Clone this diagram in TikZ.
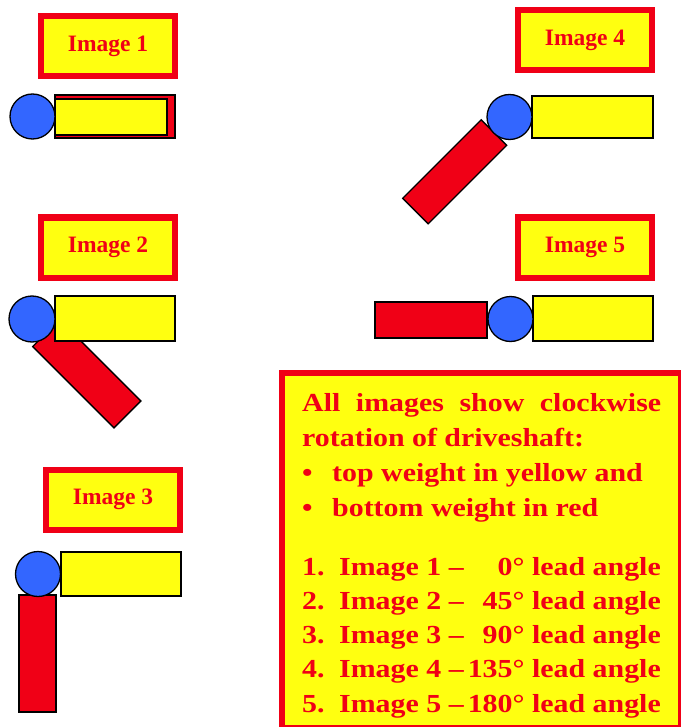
\documentclass[tikz,border=0pt]{standalone}
\usepackage{fontspec}
\setmainfont{Liberation Serif}
\newfontfamily\boxfont{Liberation Serif}[FakeStretch=1.15]
\definecolor{myred}{RGB}{240,0,22}
\definecolor{myyellow}{RGB}{255,255,16}
\definecolor{myblue}{RGB}{51,102,255}
\tikzset{
  labelbox/.style={draw=myred, fill=myyellow, line width=6pt, minimum width=134pt, minimum height=60pt, inner sep=0pt,
    text=myred, font=\fontsize{23.5}{26}\selectfont\bfseries},
  legendbox/.style={draw=myred, fill=myyellow, line width=6pt, inner sep=0pt},
  redrod/.style={draw=black, fill=myred, line width=1.3pt},
  yellowrod/.style={draw=black, fill=myyellow, line width=1.3pt},
  hub/.style={draw=black, fill=myblue, line width=1.3pt},
  txt/.style={inner sep=0pt, text=myred, font=\boxfont\fontsize{26}{30}\selectfont\bfseries},
}
\begin{document}
\begin{tikzpicture}[x=1pt,y=-1pt]
\useasboundingbox (0,0) rectangle (680,727);

% labels
\node[labelbox] (lab1) at (108,46) {Image 1};
\node[labelbox] (lab2) at (108,247.5) {Image 2};
\node[labelbox] (lab3) at (113,499.5) {Image 3};
\node[labelbox] (lab4) at (585,40.5) {Image 4};
\node[labelbox] (lab5) at (585,247.5) {Image 5};

% Image 1
\draw[redrod] (55,95) rectangle (175,138);
\draw[yellowrod] (55,99) rectangle (167,135);
\draw[hub] (32.5,116.5) circle[radius=22.5];

% Image 2
\draw[redrod] (32.7,346.6) -- (59.6,319.7) -- (140.9,401.0) -- (114.0,427.9) -- cycle;
\draw[yellowrod] (55,296) rectangle (175,341);
\draw[hub] (32,319) circle[radius=23];

% Image 3
\draw[redrod] (19,595) rectangle (56,712);
\draw[yellowrod] (61,552) rectangle (181,596);
\draw[hub] (38,574) circle[radius=22.5];

% Image 4
\draw[redrod] (481.2,119.8) -- (506.7,145.3) -- (428.2,223.8) -- (402.7,198.3) -- cycle;
\draw[yellowrod] (532,96) rectangle (653,138);
\draw[hub] (509.5,117) circle[radius=22.5];

% Image 5
\draw[redrod] (375,302) rectangle (487,338);
\draw[yellowrod] (533,296) rectangle (653,341);
\draw[hub] (510.5,319) circle[radius=22.5];

% legend
\node[legendbox, minimum width=399pt, minimum height=355pt, anchor=north west] (legend) at (279,370) {};

\node[txt, anchor=base west] (t1) at (302,411.5) {\makebox[359pt][s]{All images show clockwise}};
\node[txt, anchor=base west] (t2) at (302,446) {rotation of driveshaft:};
\node[txt, anchor=base west] (b1) at (302,481.5) {•};
\node[txt, anchor=base west] (t3) at (332,481.5) {top weight in yellow and};
\node[txt, anchor=base west] (b2) at (302,516.5) {•};
\node[txt, anchor=base west] (t4) at (332,516.5) {bottom weight in red};

\node[txt, anchor=base west] (n1) at (302,575) {1.};
\node[txt, anchor=base west] (i1) at (339,575) {Image 1 –};
\node[txt, anchor=base east] (a1) at (661,575) {0° lead angle};

\node[txt, anchor=base west] (n2) at (302,609.3) {2.};
\node[txt, anchor=base west] (i2) at (339,609.3) {Image 2 –};
\node[txt, anchor=base east] (a2) at (661,609.3) {45° lead angle};

\node[txt, anchor=base west] (n3) at (302,643.6) {3.};
\node[txt, anchor=base west] (i3) at (339,643.6) {Image 3 –};
\node[txt, anchor=base east] (a3) at (661,643.6) {90° lead angle};

\node[txt, anchor=base west] (n4) at (302,677.9) {4.};
\node[txt, anchor=base west] (i4) at (339,677.9) {Image 4 –};
\node[txt, anchor=base east] (a4) at (661,677.9) {135° lead angle};

\node[txt, anchor=base west] (n5) at (302,712.2) {5.};
\node[txt, anchor=base west] (i5) at (339,712.2) {Image 5 –};
\node[txt, anchor=base east] (a5) at (661,712.2) {180° lead angle};
\end{tikzpicture}
\end{document}
